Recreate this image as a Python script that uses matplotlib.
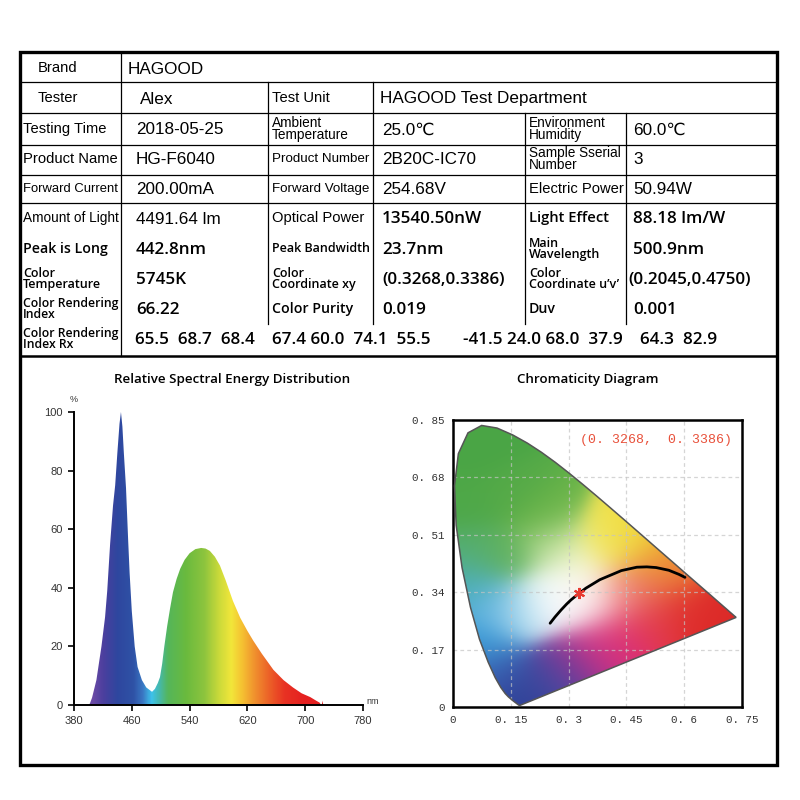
import matplotlib
import numpy as np

matplotlib.use("Agg")
import matplotlib.pyplot as plt
from matplotlib.colors import LinearSegmentedColormap, to_rgb
from matplotlib.patches import Polygon

# ── data ────────────────────────────────────────────────────────────────────

COL1_LABELS = ["Brand", "Tester", "Testing Time", "Product Name", "Forward Current",
               "Amount of Light", "Peak is Long", "Color\nTemperature",
               "Color Rendering\nIndex", "Color Rendering\nIndex Rx"]
COL1_VALUES = ["HAGOOD", "Alex", "2018-05-25", "HG-F6040", "200.00mA",
               "4491.64 lm", "442.8nm", "5745K", "66.22", None]
COL2_LABELS = [None, "Test Unit", "Ambient\nTemperature", "Product Number", "Forward Voltage",
               "Optical Power", "Peak Bandwidth", "Color\nCoordinate xy", "Color Purity", None]
COL2_VALUES = [None, "HAGOOD Test Department", "25.0℃", "2B20C-IC70", "254.68V",
               "13540.50nW", "23.7nm", "(0.3268,0.3386)", "0.019", None]
COL3_LABELS = [None, None, "Environment\nHumidity", "Sample Sserial\nNumber", "Electric Power",
               "Light Effect", "Main\nWavelength", "Color\nCoordinate u’v’", "Duv", None]
COL3_VALUES = [None, None, "60.0℃", "3", "50.94W",
               "88.18 lm/W", "500.9nm", "(0.2045,0.4750)", "0.001", None]
RX_GROUPS = ["65.5  68.7  68.4", "67.4 60.0  74.1  55.5", "-41.5 24.0 68.0  37.9", "64.3  82.9"]

# relative spectral energy (%)
WAVELENGTH = [400, 402, 405, 411, 418, 423, 426, 430, 434, 437, 440, 443, 445, 447, 449, 452,
              455, 457, 460, 464, 468, 474, 480, 488, 492, 496, 499, 502, 505, 509, 513, 517,
              522, 527, 533, 540, 548, 556, 562, 568, 575, 582, 590, 600, 610, 620, 628, 640,
              656, 670, 683, 695, 707, 715, 720, 722, 723, 724, 725]
INTENSITY = [0, 0.5, 2.5, 8.5, 20, 30, 39, 55, 68, 75, 86, 96, 100, 95, 86, 74,
             56, 45, 32, 20, 13, 8.5, 6, 4.5, 5.5, 7.5, 9.5, 14, 20, 27, 33, 38.5,
             43, 46.5, 49.5, 51.8, 53.2, 53.6, 53.4, 52.6, 50.6, 47.6, 42.5, 35.5, 29.8, 25.3, 22, 17.5,
             12, 8.5, 6, 4, 2.7, 1.5, 0.8, 0, 0, 1.5, 0]
SPEC_XTICKS = [380, 460, 540, 620, 700, 780]
SPEC_YTICKS = [0, 20, 40, 60, 80, 100]

# CIE 1931 spectral locus as drawn (x, y)
LOCUS_X = [0.1741, 0.1733, 0.1714, 0.1689, 0.1644, 0.1566, 0.1440, 0.1355, 0.1241, 0.1096,
           0.0913, 0.0687, 0.0454, 0.0235, 0.0082, 0.0039, 0.0139, 0.0389, 0.0743, 0.1142,
           0.1547, 0.1929, 0.2296, 0.2658, 0.3016, 0.3373, 0.3731, 0.4087, 0.4441, 0.4788,
           0.5125, 0.5448, 0.5752, 0.6029, 0.6270, 0.6658, 0.6915, 0.7079, 0.7190, 0.7260,
           0.7300, 0.7334, 0.7347]
LOCUS_Y = [0.0050, 0.0048, 0.0051, 0.0069, 0.0109, 0.0177, 0.0297, 0.0399, 0.0578, 0.0868,
           0.1327, 0.2007, 0.2950, 0.4127, 0.5384, 0.6548, 0.7502, 0.8120, 0.8338, 0.8262,
           0.8059, 0.7816, 0.7543, 0.7243, 0.6923, 0.6589, 0.6245, 0.5896, 0.5547, 0.5202,
           0.4866, 0.4544, 0.4242, 0.3965, 0.3725, 0.3340, 0.3083, 0.2920, 0.2809, 0.2740,
           0.2700, 0.2666, 0.2653]
PLANCK_X = [0.252, 0.265, 0.281, 0.295, 0.306, 0.322, 0.345, 0.381, 0.437, 0.477, 0.503,
            0.527, 0.560, 0.586, 0.602]
PLANCK_Y = [0.248, 0.267, 0.288, 0.305, 0.317, 0.332, 0.352, 0.377, 0.404, 0.414, 0.415,
            0.413, 0.405, 0.393, 0.384]
POINT_XY = (0.3268, 0.3386)
CIE_XTICKS = [0, 0.15, 0.3, 0.45, 0.6, 0.75]
CIE_YTICKS = [0, 0.17, 0.34, 0.51, 0.68, 0.85]

# ── style ───────────────────────────────────────────────────────────────────

ARIAL = ["Liberation Sans", "DejaVu Sans"]
MYRIAD = ["Open Sans", "DejaVu Sans"]
MONO = ["Liberation Mono", "DejaVu Sans Mono"]

SPECTRUM_STOPS = [(380, "#6b4aa6"), (405, "#6b4aa6"), (420, "#4b3f9e"), (440, "#2e479f"),
                  (462, "#2f52a6"), (475, "#3a78c4"), (487, "#3ec3ec"), (497, "#45b9b0"),
                  (510, "#55b65a"), (535, "#6aba3e"), (560, "#8cc43e"), (580, "#c8d93a"),
                  (598, "#f2e63a"), (612, "#f5c432"), (630, "#f0922e"), (650, "#ec6228"),
                  (672, "#e83223"), (700, "#e52020"), (780, "#e52020")]

# colour field of the horseshoe (x, y, colour)
CIE_ANCHORS = [(0.07, 0.76, "#4aa545"), (0.04, 0.60, "#4ea848"), (0.15, 0.63, "#55aa48"),
               (0.23, 0.56, "#6ab448"), (0.05, 0.46, "#55ad6c"), (0.04, 0.37, "#4cafb8"),
               (0.10, 0.30, "#5ab0e0"), (0.17, 0.28, "#b8e0f0"), (0.08, 0.19, "#3a9ad6"),
               (0.12, 0.10, "#3a5fb0"), (0.17, 0.03, "#2e3f95"), (0.24, 0.07, "#3f4aa0"),
               (0.30, 0.12, "#7a3a98"), (0.37, 0.17, "#cc3288"), (0.43, 0.22, "#e0306e"),
               (0.51, 0.27, "#e23a48"), (0.61, 0.30, "#e0302e"), (0.70, 0.27, "#dc2a28"),
               (0.30, 0.33, "#ffffff"), (0.36, 0.30, "#fbeef0"), (0.24, 0.32, "#eef7fb"),
               (0.33, 0.41, "#f8f9e0"), (0.26, 0.47, "#c4e2a0"), (0.40, 0.48, "#f2e860"),
               (0.46, 0.50, "#f0dc3c"), (0.52, 0.44, "#f0b034"), (0.57, 0.40, "#ea7c34"),
               (0.44, 0.34, "#f3a4a4"), (0.50, 0.36, "#ea6a50"), (0.14, 0.45, "#62b25a")]


def fit_text(ax, x, y, s, size, family, weight="normal", max_right=None, **kw):
    t = ax.text(x, y, s, fontsize=size, family=family, weight=weight,
                ha="left", va="center", color="black", **kw)
    if max_right is None:
        return t
    renderer = ax.figure.canvas.get_renderer()
    while size > 6:
        if t.get_window_extent(renderer).x1 <= max_right:
            break
        size -= 0.2
        t.set_fontsize(size)
    return t


fig = plt.figure(figsize=(8, 8), dpi=100)
base = fig.add_axes([0, 0, 1, 1])
base.set_xlim(0, 800)
base.set_ylim(800, 0)
base.axis("off")

# ── table frame ─────────────────────────────────────────────────────────────
ROW_LINES = [82, 113, 145, 175, 203]
ROW_Y = [68, 98, 129, 159, 189, 218, 249, 279, 309, 339]
TABLE_BOTTOM = 356
RIGHT = 777

base.add_patch(Polygon([(20, 52), (RIGHT, 52), (RIGHT, 765), (20, 765)], closed=True,
                       fill=False, lw=2.4, edgecolor="black", joinstyle="miter"))
for yl in ROW_LINES:
    base.plot([20, RIGHT], [yl, yl], color="black", lw=0.9)
base.plot([20, RIGHT], [TABLE_BOTTOM, TABLE_BOTTOM], color="black", lw=1.8)
base.plot([121, 121], [52, TABLE_BOTTOM], color="black", lw=0.9)
for xc in [268, 373]:
    base.plot([xc, xc], [82, 324], color="black", lw=0.9)
for xc in [525, 626]:
    base.plot([xc, xc], [113, 324], color="black", lw=0.9)

# ── table text ──────────────────────────────────────────────────────────────
myriad_cells = {"13540.50nW", "Light Effect", "88.18 lm/W"}
for i in range(10):
    y = ROW_Y[i]
    lower = i >= 6
    for lab, xl, right in [(COL1_LABELS[i], 23, 119), (COL2_LABELS[i], 272, 371),
                           (COL3_LABELS[i], 529, 624)]:
        if lab is None:
            continue
        fam, wt = (MYRIAD, "semibold") if (lower or lab in myriad_cells) else (ARIAL, "normal")
        if i < 2 and xl == 23:
            xl = 38
        if "\n" in lab:
            size = 9.0 if lower else 9.8
            fit_text(base, xl, y, lab, size, fam, wt, max_right=right, linespacing=0.82)
        else:
            size = 10.2 if lower else 10.6
            fit_text(base, xl, y, lab, size, fam, wt, max_right=right)
    for val, xv in [(COL1_VALUES[i], 136), (COL2_VALUES[i], 382), (COL3_VALUES[i], 633)]:
        if val is None:
            continue
        fam, wt = (MYRIAD, "semibold") if (lower or val in myriad_cells) else (ARIAL, "normal")
        if i == 0:
            xv = 128
        elif i == 1 and xv == 136:
            xv = 140
        elif i == 1:
            xv = 380
        if val.startswith("(") and xv > 600:
            xv = 628
        fit_text(base, xv, y + 1, val, 12.3, fam, wt)

for grp, xg in zip(RX_GROUPS, [135, 272, 463, 640]):
    fit_text(base, xg, ROW_Y[9] + 1, grp, 12.3, MYRIAD, "semibold")

# ── chart titles ────────────────────────────────────────────────────────────
base.text(232, 379, "Relative Spectral Energy Distribution", ha="center", va="center",
          fontsize=9.6, family=MYRIAD, weight="semibold")
base.text(588, 379, "Chromaticity Diagram", ha="center", va="center",
          fontsize=9.6, family=MYRIAD, weight="semibold")

# ── spectrum ────────────────────────────────────────────────────────────────
ax1 = fig.add_axes([74 / 800, 1 - 705 / 800, 289 / 800, 293 / 800])
ax1.set_xlim(380, 780)
ax1.set_ylim(0, 100)
spec_cmap = LinearSegmentedColormap.from_list(
    "spec", [((w - 380) / 400, c) for w, c in SPECTRUM_STOPS])
grad = np.linspace(380, 780, 800)[None, :]
im = ax1.imshow(grad, extent=[380, 780, 0, 100], aspect="auto", cmap=spec_cmap,
                vmin=380, vmax=780, origin="lower", interpolation="bilinear")
spec_patch = Polygon(np.column_stack([WAVELENGTH, INTENSITY]), closed=True,
                     facecolor="none", edgecolor="none", transform=ax1.transData)
ax1.add_patch(spec_patch)
im.set_clip_path(spec_patch)
for side in ["top", "right"]:
    ax1.spines[side].set_visible(False)
for side in ["left", "bottom"]:
    ax1.spines[side].set_linewidth(1.4)
ax1.set_xticks(SPEC_XTICKS)
ax1.set_yticks(SPEC_YTICKS)
ax1.tick_params(direction="out", length=4, width=1.2, labelsize=8, labelcolor="#333333", pad=4)
for lbl in ax1.get_xticklabels() + ax1.get_yticklabels():
    lbl.set_family(ARIAL)
base.text(74, 399, "%", ha="center", va="center", fontsize=6.5, color="#333333", family=ARIAL)
base.text(373, 701, "nm", ha="center", va="center", fontsize=6.5, color="#333333", family=ARIAL)

# ── chromaticity ────────────────────────────────────────────────────────────
ax2 = fig.add_axes([453 / 800, 1 - 707 / 800, 289 / 800, 287 / 800])
ax2.set_xlim(0, 0.75)
ax2.set_ylim(0, 0.85)
gx = np.linspace(0, 0.75, 300)
gy = np.linspace(0, 0.85, 340)
GX, GY = np.meshgrid(gx, gy)
anc = np.array([(a[0], a[1]) for a in CIE_ANCHORS])
cols = np.array([to_rgb(a[2]) for a in CIE_ANCHORS])
d2 = (GX[..., None] - anc[:, 0]) ** 2 + (GY[..., None] - anc[:, 1]) ** 2
w = np.exp(-d2 / (2 * 0.055 ** 2)) + 1e-12
rgb = np.einsum("ijk,kc->ijc", w, cols) / w.sum(-1)[..., None]
im2 = ax2.imshow(np.clip(rgb, 0, 1), extent=[0, 0.75, 0, 0.85], origin="lower",
                 aspect="auto", interpolation="bilinear", zorder=1)
locus = Polygon(np.column_stack([LOCUS_X, LOCUS_Y]), closed=True, facecolor="none",
                edgecolor="#555555", lw=1.1, transform=ax2.transData, zorder=3)
ax2.add_patch(locus)
im2.set_clip_path(locus)
for g in CIE_XTICKS[1:-1]:
    ax2.axvline(g, color="#c4c4c4", ls=(0, (3, 2.5)), lw=0.9, alpha=0.7, zorder=2)
for g in CIE_YTICKS[1:-1]:
    ax2.axhline(g, color="#c4c4c4", ls=(0, (3, 2.5)), lw=0.9, alpha=0.7, zorder=2)
ax2.plot(PLANCK_X, PLANCK_Y, color="black", lw=2.0, zorder=4, solid_capstyle="round")
ax2.plot([POINT_XY[0]], [POINT_XY[1]], marker=(6, 2, 0), color="#e83a30", ms=8, mew=1.5, zorder=5)
ax2.text(0.527, 0.79, "(0. 3268,  0. 3386)", ha="center", va="center", fontsize=9.5,
         color="#e8503a", family=MONO, zorder=5)
for sp in ax2.spines.values():
    sp.set_linewidth(1.8)
ax2.set_xticks(CIE_XTICKS)
ax2.set_yticks(CIE_YTICKS)
ax2.set_xticklabels(["0" if v == 0 else f"{v:.2f}".rstrip("0").replace("0.", "0. ") for v in CIE_XTICKS])
ax2.set_yticklabels(["0" if v == 0 else f"{v:.2f}".replace("0.", "0. ") for v in CIE_YTICKS])
ax2.tick_params(length=0, labelsize=7.8, labelcolor="#333333", pad=6)
for lbl in ax2.get_xticklabels() + ax2.get_yticklabels():
    lbl.set_family(MONO)

fig.savefig("out.png", dpi=100, facecolor="white")
